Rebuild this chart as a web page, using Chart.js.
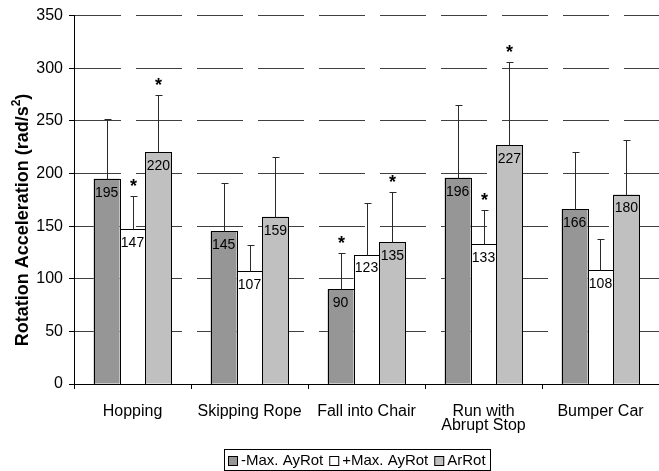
<!DOCTYPE html>
<html>
<head>
<meta charset="utf-8">
<script src="https://cdn.jsdelivr.net/npm/chart.js@4/dist/chart.umd.min.js"></script>
<style>
  html, body { margin: 0; padding: 0; background: #fff; }
  #wrap { width: 659px; height: 471px; position: relative; }
</style>
</head>
<body>
<div id="wrap"><canvas id="c"></canvas></div>
<script>
// Activities on the x axis
const categories = ['Hopping', 'Skipping Rope', 'Fall into Chair', ['Run with', 'Abrupt Stop'], 'Bumper Car'];

// Mean rotational accelerations (rad/s^2)
const negMaxAyRot = [195, 145, 90, 196, 166];
const posMaxAyRot = [147, 107, 123, 133, 108];
const arRot       = [220, 159, 135, 227, 180];

// Standard deviations (drawn as upward error bars)
const negMaxAyRotSD = [57, 46, 34, 69, 54];
const posMaxAyRotSD = [32, 25, 49, 32, 30];
const arRotSD       = [55, 57, 47, 79, 52];

// Significance markers (1 = asterisk above the error bar)
const negMaxAyRotSig = [0, 0, 1, 0, 0];
const posMaxAyRotSig = [1, 0, 0, 1, 0];
const arRotSig       = [1, 0, 1, 1, 0];

// Y axis
const yMin = 0, yMax = 350, yStep = 50;
const yTitle = 'Rotation Acceleration (rad/s';
const yTitleSup = '2';

const FONT = '"Liberation Sans", Arial, sans-serif';

// Outlines, error bars, asterisks and value labels on top of the bars
const barDecorPlugin = {
  id: 'barDecor',
  afterDatasetsDraw(chart) {
    const ctx = chart.ctx;
    const y = chart.scales.y;
    chart.data.datasets.forEach((ds, di) => {
      const meta = chart.getDatasetMeta(di);
      meta.data.forEach((bar, i) => {
        const v = ds.data[i];
        ctx.save();
        // bar outline
        const l = Math.round(bar.x - bar.width / 2) + 0.5;
        const r = Math.round(bar.x + bar.width / 2) + 0.5;
        const t = Math.round(bar.y) + 0.5;
        const b = Math.round(bar.base) + 0.5;
        ctx.strokeStyle = '#000';
        ctx.lineWidth = 1;
        ctx.strokeRect(l, t, r - l, b - t);
        // error bar
        const top = Math.round(y.getPixelForValue(v + ds.sd[i])) + 0.5;
        const x = Math.round(bar.x) + 0.5;
        ctx.strokeStyle = '#2a2a2a';
        ctx.beginPath();
        ctx.moveTo(x, t);
        ctx.lineTo(x, top);
        ctx.moveTo(x - 3, top);
        ctx.lineTo(x + 4, top);
        ctx.stroke();
        if (ds.sig[i]) {
          ctx.fillStyle = '#000';
          ctx.font = 'bold 18px ' + FONT;
          ctx.textAlign = 'center';
          ctx.textBaseline = 'alphabetic';
          ctx.fillText('*', x, top - 5);
        }
        // value label just inside the top of the bar
        ctx.fillStyle = '#000';
        ctx.font = '14px ' + FONT;
        ctx.textAlign = 'center';
        ctx.textBaseline = 'top';
        ctx.fillText(String(v), bar.x, bar.y + 7);
        ctx.restore();
      });
    });
  }
};

// Rotated y axis title with a superscript
const yTitlePlugin = {
  id: 'yTitle',
  afterDraw(chart) {
    const ctx = chart.ctx;
    ctx.save();
    ctx.translate(23, 220);
    ctx.rotate(-Math.PI / 2);
    ctx.fillStyle = '#000';
    ctx.font = 'bold 18px ' + FONT;
    const wMain = ctx.measureText(yTitle).width;
    ctx.font = 'bold 12px ' + FONT;
    const wSup = ctx.measureText(yTitleSup).width;
    ctx.font = 'bold 18px ' + FONT;
    const wEnd = ctx.measureText(')').width;
    let x = -(wMain + wSup + wEnd) / 2;
    ctx.textAlign = 'left';
    ctx.textBaseline = 'middle';
    ctx.fillText(yTitle, x, 0);
    x += wMain;
    ctx.font = 'bold 12px ' + FONT;
    ctx.fillText(yTitleSup, x, -6);
    x += wSup;
    ctx.font = 'bold 18px ' + FONT;
    ctx.fillText(')', x, 0);
    ctx.restore();
  }
};

const boxLegendPlugin = {
  id: 'boxLegend',
  afterDraw(chart) {
    const ctx = chart.ctx;
    ctx.save();
    ctx.font = '15px ' + FONT;
    const sq = 10, gapSq = 3, gapItem = 6, pad = 4;
    const items = chart.data.datasets.map(ds => ({
      label: ds.label, color: ds.backgroundColor, w: ctx.measureText(ds.label).width
    }));
    let total = pad * 2;
    items.forEach((it, i) => { total += sq + gapSq + it.w + (i < items.length - 1 ? gapItem : 0); });
    const boxH = 21, boxTop = 449;
    const cx = 357;
    const left = Math.round(cx - total / 2);
    ctx.strokeStyle = '#000';
    ctx.lineWidth = 1;
    ctx.strokeRect(left + 0.5, boxTop + 0.5, Math.round(total), boxH);
    let x = left + pad;
    const midY = boxTop + boxH / 2 + 1;
    items.forEach(it => {
      ctx.fillStyle = it.color;
      ctx.fillRect(x + 0.5, Math.round(midY - sq / 2) + 0.5, sq - 1, sq - 1);
      ctx.strokeStyle = '#000';
      ctx.strokeRect(x + 0.5, Math.round(midY - sq / 2) + 0.5, sq - 1, sq - 1);
      x += sq + gapSq;
      ctx.fillStyle = '#000';
      ctx.textAlign = 'left';
      ctx.textBaseline = 'middle';
      ctx.fillText(it.label, x, midY);
      x += it.w + gapItem;
    });
    ctx.restore();
  }
};

new Chart(document.getElementById('c'), {
  type: 'bar',
  data: {
    labels: categories,
    datasets: [
      { label: '-Max. AyRot', data: negMaxAyRot, sd: negMaxAyRotSD, sig: negMaxAyRotSig,
        backgroundColor: '#969696', borderWidth: 0 },
      { label: '+Max. AyRot', data: posMaxAyRot, sd: posMaxAyRotSD, sig: posMaxAyRotSig,
        backgroundColor: '#ffffff', borderWidth: 0 },
      { label: 'ArRot', data: arRot, sd: arRotSD, sig: arRotSig,
        backgroundColor: '#c0c0c0', borderWidth: 0 }
    ]
  },
  options: {
    responsive: true,
    maintainAspectRatio: false,
    animation: false,
    devicePixelRatio: 1,
    layout: { padding: { top: 15, right: 0, bottom: 0, left: 0 } },
    datasets: { bar: { categoryPercentage: 0.664, barPercentage: 1.0 } },
    plugins: { legend: { display: false }, tooltip: { enabled: false } },
    scales: {
      x: {
        afterFit(scale) { scale.height = 87; },
        grid: { display: true, drawOnChartArea: false, offset: true, tickLength: 5, tickColor: '#000' },
        border: { display: true, color: '#000', width: 1 },
        ticks: { color: '#000', font: { family: FONT, size: 16, lineHeight: 0.9 }, padding: 15, maxRotation: 0, autoSkip: false }
      },
      y: {
        min: yMin, max: yMax,
        afterFit(scale) { scale.width = 74; },
        grid: {
          color: (c) => (c.tick && c.tick.value === 0) ? 'rgba(0,0,0,0)' : '#404040',
          tickLength: 5, tickColor: '#000'
        },
        border: { display: true, color: '#000', width: 1, dash: [46, 15] },
        ticks: { stepSize: yStep, color: '#000', font: { family: FONT, size: 16 }, padding: 6 }
      }
    }
  },
  plugins: [barDecorPlugin, yTitlePlugin, boxLegendPlugin]
});
</script>
</body>
</html>
